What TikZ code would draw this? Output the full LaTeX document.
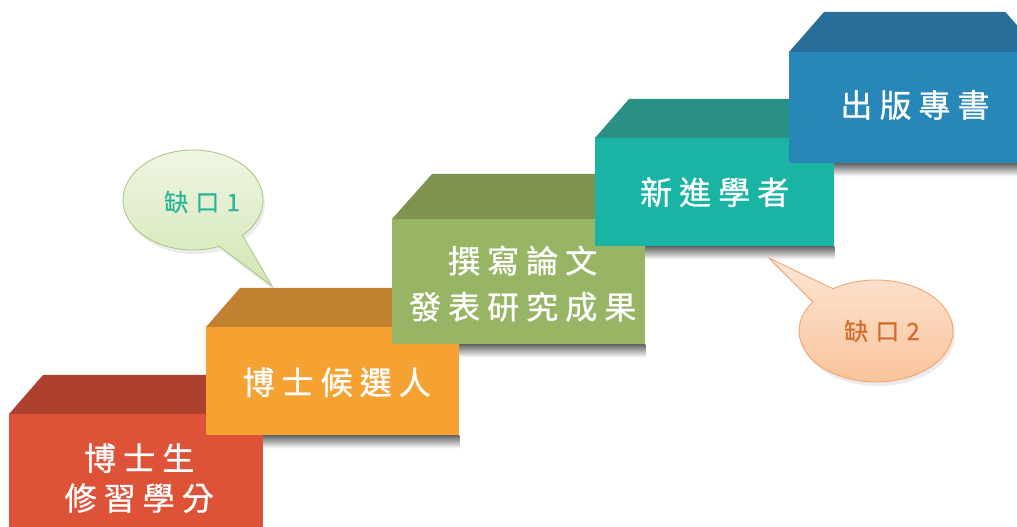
\documentclass[tikz,border=0pt]{standalone}
\usepackage{fontspec}
\newfontfamily\cjkbox[LetterSpace=22, FakeBold=0.9]{Noto Sans CJK TC}
\newfontfamily\cjkcall[LetterSpace=30, FakeBold=0.6]{Noto Sans CJK TC}
\usetikzlibrary{calc}
\definecolor{redF}{HTML}{DE5238}
\definecolor{redT}{HTML}{AE412E}
\definecolor{oraF}{HTML}{F6A233}
\definecolor{oraT}{HTML}{C08230}
\definecolor{grnF}{HTML}{97B565}
\definecolor{grnT}{HTML}{7F924F}
\definecolor{tealF}{HTML}{1AB4A4}
\definecolor{tealT}{HTML}{2A9084}
\definecolor{bluF}{HTML}{2787B8}
\definecolor{bluT}{HTML}{276F98}
\definecolor{c1top}{HTML}{F0F6E4}
\definecolor{c1bot}{HTML}{D3E6B4}
\definecolor{c1line}{HTML}{A9C47F}
\definecolor{c1text}{HTML}{2BB39B}
\definecolor{c2top}{HTML}{FDE6D6}
\definecolor{c2bot}{HTML}{F9C297}
\definecolor{c2line}{HTML}{F0A066}
\definecolor{c2text}{HTML}{D26A2A}
\pgfdeclarelayer{back}
\pgfdeclarelayer{shadow}
\pgfsetlayers{back,shadow,main}
\tikzset{
  front/.style={rectangle, inner sep=0pt, anchor=north west},
  boxtext/.style={text=white, font=\cjkbox\fontsize{32}{38}\selectfont, align=center, inner sep=0pt},
  callouttext/.style={font=\cjkcall\fontsize{24}{26}\selectfont, inner sep=0pt}
}
\newcommand{\stepbox}[8]{%
  % #1 name, #2 x, #3 y top, #4 width, #5 height, #6 front colour, #7 top colour, #8 top face height
  \node[front, fill=#6, minimum width=#4, minimum height=#5] (#1) at (#2,#3) {};
  \fill[#7] (#1.north west) -- ++(#8-5,#8) -- ($(#1.north east)+(-#8+5,#8)$) -- (#1.north east) -- cycle;
  \begin{pgfonlayer}{shadow}
    \shade[top color=black!60, bottom color=white] ($(#1.south west)+(10,0)$) rectangle ($(#1.south east)+(0,-13)$);
  \end{pgfonlayer}
}
\begin{document}
\begin{tikzpicture}[x=1pt,y=1pt]
\useasboundingbox (0,0) rectangle (1017,527);
\begin{pgfonlayer}{back}
\fill[white] (0,0) rectangle (1017,527);
\end{pgfonlayer}
\clip (0,0) rectangle (1017,527);
% boxes
\stepbox{s1}{9}{113}{254}{128}{redF}{redT}{39}
\node[boxtext] (t1) at ($(s1.center)+(3,0)$) {博士生\\[2pt]修習學分};
\stepbox{s2}{206}{200}{253}{108}{oraF}{oraT}{39}
\node[boxtext] (t2) at ($(s2.center)+(4,-1)$) {博士候選人};
\stepbox{s3}{392}{308}{253}{125}{grnF}{grnT}{45}
\node[boxtext] (t3) at ($(s3.center)+(4,-2)$) {撰寫論文\\[8pt]發表研究成果};
\stepbox{s4}{595}{389}{239}{108}{tealF}{tealT}{39}
\node[boxtext] (t4) at ($(s4.center)+(0,0)$) {新進學者};
\stepbox{s5}{789}{475}{251}{111}{bluF}{bluT}{40}
\node[boxtext] (t5) at (915,422) {出版專書};
% callout 1
\coordinate (c1) at (193,327);
\coordinate (p1) at (272,241);
\fill[black, opacity=0.08] (c1) ++(2,-4) ++(-45:70 and 50) arc[start angle=-45, end angle=292, x radius=70, y radius=50] -- ($(p1)+(2,-4)$) -- cycle;
\shadedraw[top color=c1top, bottom color=c1bot, draw=c1line, line width=0.8pt]
  (c1) ++(-45:70 and 50) arc[start angle=-45, end angle=292, x radius=70, y radius=50] -- (p1) -- cycle;
\node[callouttext, text=c1text] (k1) at (202,325) {缺口1};
% callout 2
\coordinate (c2) at (876,196);
\coordinate (p2) at (769,269);
\fill[black, opacity=0.08] (c2) ++(2,-4) ++(145:77 and 51) arc[start angle=145, end angle=484, x radius=77, y radius=51] -- ($(p2)+(2,-4)$) -- cycle;
\shadedraw[top color=c2top, bottom color=c2bot, draw=c2line, line width=0.8pt]
  (c2) ++(145:77 and 51) arc[start angle=145, end angle=484, x radius=77, y radius=51] -- (p2) -- cycle;
\node[callouttext, text=c2text] (k2) at (882,196) {缺口2};
\end{tikzpicture}
\end{document}
